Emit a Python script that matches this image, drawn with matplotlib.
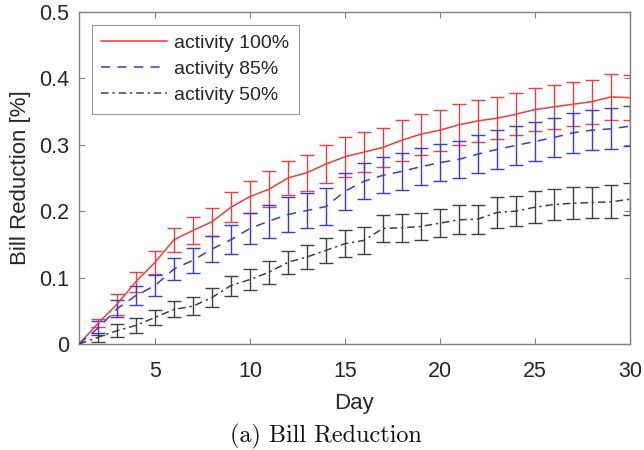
import matplotlib
matplotlib.use("Agg")
import matplotlib.pyplot as plt
import numpy as np

days = list(range(1, 31))

act100 = [0, 0.031, 0.06, 0.094, 0.123, 0.157, 0.171, 0.184, 0.206, 0.222,
          0.233, 0.25, 0.258, 0.271, 0.282, 0.289, 0.296, 0.307, 0.316, 0.322,
          0.33, 0.336, 0.34, 0.346, 0.353, 0.357, 0.361, 0.365, 0.372, 0.371]
err100 = [0, 0.006, 0.016, 0.015, 0.017, 0.018, 0.02, 0.021, 0.023, 0.024,
          0.027, 0.026, 0.027, 0.028, 0.03, 0.03, 0.03, 0.031, 0.031, 0.031,
          0.031, 0.032, 0.032, 0.032, 0.033, 0.033, 0.033, 0.033, 0.034, 0.034]

act85 = [0, 0.024, 0.053, 0.073, 0.088, 0.113, 0.126, 0.143, 0.157, 0.174,
         0.185, 0.195, 0.201, 0.207, 0.23, 0.245, 0.254, 0.26, 0.267, 0.273,
         0.278, 0.286, 0.293, 0.299, 0.305, 0.311, 0.318, 0.322, 0.324, 0.328]
err85 = [0, 0.011, 0.013, 0.015, 0.016, 0.017, 0.019, 0.02, 0.022, 0.023,
         0.025, 0.026, 0.027, 0.028, 0.028, 0.027, 0.027, 0.028, 0.028, 0.028,
         0.028, 0.029, 0.029, 0.029, 0.029, 0.03, 0.03, 0.03, 0.031, 0.03]

act50 = [0, 0.01, 0.02, 0.028, 0.04, 0.052, 0.057, 0.07, 0.088, 0.097,
         0.108, 0.123, 0.131, 0.141, 0.151, 0.156, 0.174, 0.175, 0.177, 0.182,
         0.187, 0.188, 0.198, 0.2, 0.206, 0.21, 0.212, 0.213, 0.214, 0.218]
err50 = [0, 0.007, 0.01, 0.011, 0.011, 0.012, 0.013, 0.014, 0.015, 0.016,
         0.017, 0.017, 0.018, 0.019, 0.02, 0.02, 0.02, 0.021, 0.021, 0.021,
         0.022, 0.022, 0.023, 0.023, 0.024, 0.024, 0.024, 0.024, 0.025, 0.024]

labels = ["activity 100%", "activity 85%", "activity 50%"]
xticks = [5, 10, 15, 20, 25, 30]
yticks = [0, 0.1, 0.2, 0.3, 0.4, 0.5]
yticklabels = ['0', '0.1', '0.2', '0.3', '0.4', '0.5']

plt.rcParams['font.family'] = ['Liberation Sans', 'DejaVu Sans']

fig = plt.figure(figsize=(6.44, 4.5), dpi=100)
ax = fig.add_axes([0.1227, 0.2356, 0.8553, 0.7378])

red = '#e8403f'
blue = '#3b3bd6'
black = '#404040'

series = [
    (act100, err100, red, '-'),
    (act85, err85, blue, (0, (6, 4.8))),
    (act50, err50, black, (0, (5, 2.5, 1.5, 2.5))),
]
handles = []
for (vals, errs, col, ls), lab in zip(series, labels):
    x = np.array(days[1:])
    y = np.array(vals[1:])
    e = np.array(errs[1:])
    ax.errorbar(x, y, yerr=e, fmt='none', ecolor=col, elinewidth=1.0,
                capsize=4.8, capthick=1.0, zorder=2)
    h, = ax.plot(days, vals, color=col, linestyle=ls, lw=1.1, label=lab, zorder=3)
    handles.append(h)

ax.set_xlim(1, 30)
ax.set_ylim(0, 0.5)
ax.set_xticks(xticks)
ax.set_yticks(yticks)
ax.set_yticklabels(yticklabels)
ax.tick_params(direction='in', length=4, width=0.8, colors='#808080',
               labelcolor='#262626', labelsize=15.5)
ax.tick_params(axis='x', pad=12)
ax.tick_params(axis='y', pad=7)
ax.tick_params(top=True, right=True, which='both')
for s in ax.spines.values():
    s.set_color('#808080')
    s.set_linewidth(1.0)

ax.set_xlabel('Day', fontsize=16, color='#262626', labelpad=8)
ax.set_ylabel('Bill Reduction [%]', fontsize=16, color='#262626', labelpad=6)

leg = ax.legend(handles=handles, loc='upper left', fontsize=14, frameon=True,
                fancybox=False, edgecolor='#808080', handlelength=3.35,
                borderaxespad=0.65, labelspacing=0.43, handletextpad=0.4,
                borderpad=0.5)
leg.get_frame().set_linewidth(0.8)
for t in leg.get_texts():
    t.set_color('#262626')

fig.text(0.506, 0.031, '(a) Bill Reduction', fontname='cmr10', fontsize=17.4,
         ha='center', va='center', color='#111111')

fig.savefig('out.png', dpi=100)
